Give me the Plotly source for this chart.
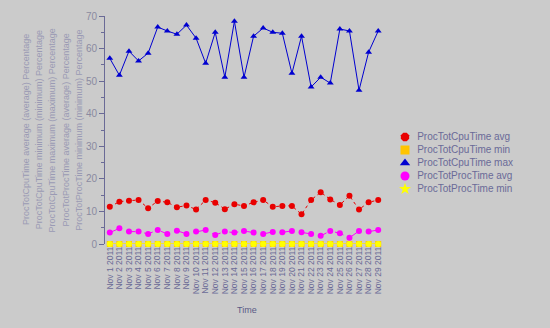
import plotly.graph_objects as go

days = [f"Nov {d} 2011" for d in range(1, 30)]

cpu_avg = [11.4, 13.0, 13.3, 13.5, 11.0, 13.2, 12.8, 11.3, 11.8, 10.6, 13.5, 12.7, 10.7, 12.2,
           11.7, 12.8, 13.5, 11.4, 11.7, 11.7, 9.1, 13.5, 15.9, 13.7, 12.0, 14.8, 10.6, 12.8, 13.5]
cpu_min = [0.0] * 29
cpu_max = [57.0, 51.8, 59.2, 56.2, 58.6, 66.6, 65.4, 64.4, 67.2, 63.2, 55.5, 65.0, 51.2, 68.4,
           51.2, 63.8, 66.3, 65.0, 64.7, 52.4, 63.8, 48.2, 51.2, 49.4, 66.0, 65.4, 47.2, 58.9, 65.4]
proc_avg = [3.5, 4.8, 3.8, 3.8, 3.1, 4.3, 3.1, 4.1, 3.1, 3.8, 4.3, 2.8, 3.8, 3.5,
            4.0, 3.5, 3.1, 3.7, 3.6, 4.0, 3.6, 3.1, 2.5, 4.0, 3.3, 1.9, 4.0, 3.8, 4.3]
proc_min = [0.0] * 29

series_names = ["ProcTotCpuTime avg", "ProcTotCpuTime min", "ProcTotCpuTime max",
                "ProcTotProcTime avg", "ProcTotProcTime min"]
y_title_lines = [
    "ProcTotCpuTime average (average) Percentage",
    "ProcTotCpuTime minimum (minimum) Percentage",
    "ProcTotCpuTime maximum (maximum) Percentage",
    "ProcTotProcTime average (average) Percentage",
    "ProcTotProcTime minimum (minimum) Percentage",
]

TEXT = "#6a6a98"
AXIS = "#6a6a96"
BG = "#cbcbcb"
W, H = 550, 328
PLOT_L, PLOT_R, PLOT_T, PLOT_B = 105, 383, 16, 244

# colour, line dash, marker in plot, marker in key
styles = [
    ("#e80000", "dot", "circle", "octagon"),
    ("#ffc400", "solid", "square", "square"),
    ("#0000d0", "solid", "triangle-up", "triangle-up"),
    ("#ff00ff", "dash", "circle", "circle"),
    ("#ffff00", "solid", "circle", "star"),
]
series = [cpu_avg, cpu_min, cpu_max, proc_avg, proc_min]

fig = go.Figure()
for name, vals, (color, dash, sym, _) in zip(series_names, series, styles):
    fig.add_trace(go.Scatter(
        x=days, y=vals, name=name, mode="lines+markers",
        line=dict(color=color, width=1, dash=dash),
        marker=dict(color=color, size=6, symbol=sym),
        cliponaxis=False, showlegend=False,
    ))

# Key drawn on a pixel-space overlay axis pair (x2/y2)
key_x = 405
key_y0, key_step = 137, 13
for i, (name, (color, _, _, ksym)) in enumerate(zip(series_names, styles)):
    fig.add_trace(go.Scatter(
        x=[key_x], y=[key_y0 + i * key_step], xaxis="x2", yaxis="y2",
        mode="markers+text", text=["  " + name], textposition="middle right",
        textfont=dict(size=10, color=TEXT),
        marker=dict(color=color, size=9, symbol=ksym, line=dict(width=0)),
        cliponaxis=False, showlegend=False, hoverinfo="skip",
    ))

fig.update_layout(
    width=W, height=H,
    margin=dict(l=0, r=0, t=PLOT_T, b=H - PLOT_B),
    paper_bgcolor=BG, plot_bgcolor="rgba(0,0,0,0)",
    font=dict(family="Liberation Sans, Arial, sans-serif", size=9, color=TEXT),
    showlegend=False,
    xaxis=dict(domain=[PLOT_L / W, PLOT_R / W], type="category", range=[-0.5, 28.5],
               tickmode="array", tickvals=days, ticktext=days,
               showgrid=False, zeroline=False, showline=False, ticks="",
               tickangle=-90, tickfont=dict(size=8.5, color=AXIS)),
    yaxis=dict(range=[0, 70], dtick=10, showgrid=False, zeroline=False,
               showline=True, linecolor=AXIS, linewidth=1,
               ticks="outside", ticklen=5, tickcolor=AXIS,
               tickfont=dict(size=10, color="#8a8aa0"),
               minor=dict(dtick=5, ticks="outside", ticklen=3, tickcolor=AXIS)),
    xaxis2=dict(domain=[0, 1], range=[0, W], anchor="y2", visible=False, fixedrange=True),
    yaxis2=dict(domain=[0, 1], range=[PLOT_B, PLOT_T], anchor="x2", visible=False, fixedrange=True),
)

# Y-axis title: one rotated line per series
title_x0, title_step = 26, 13.2
for i, line in enumerate(y_title_lines):
    fig.add_annotation(
        text=line, xref="paper", yref="paper",
        x=(title_x0 + i * title_step) / W, y=0.5, xanchor="center", yanchor="middle",
        textangle=-90, showarrow=False, font=dict(size=9, color="#9a9ab4"),
    )
fig.add_annotation(
    text="Time", xref="paper", yref="paper", x=247 / W, y=-0.29,
    xanchor="center", yanchor="middle", showarrow=False,
    font=dict(size=9, color="#5a5a86"),
)

fig.write_html("out.html")
